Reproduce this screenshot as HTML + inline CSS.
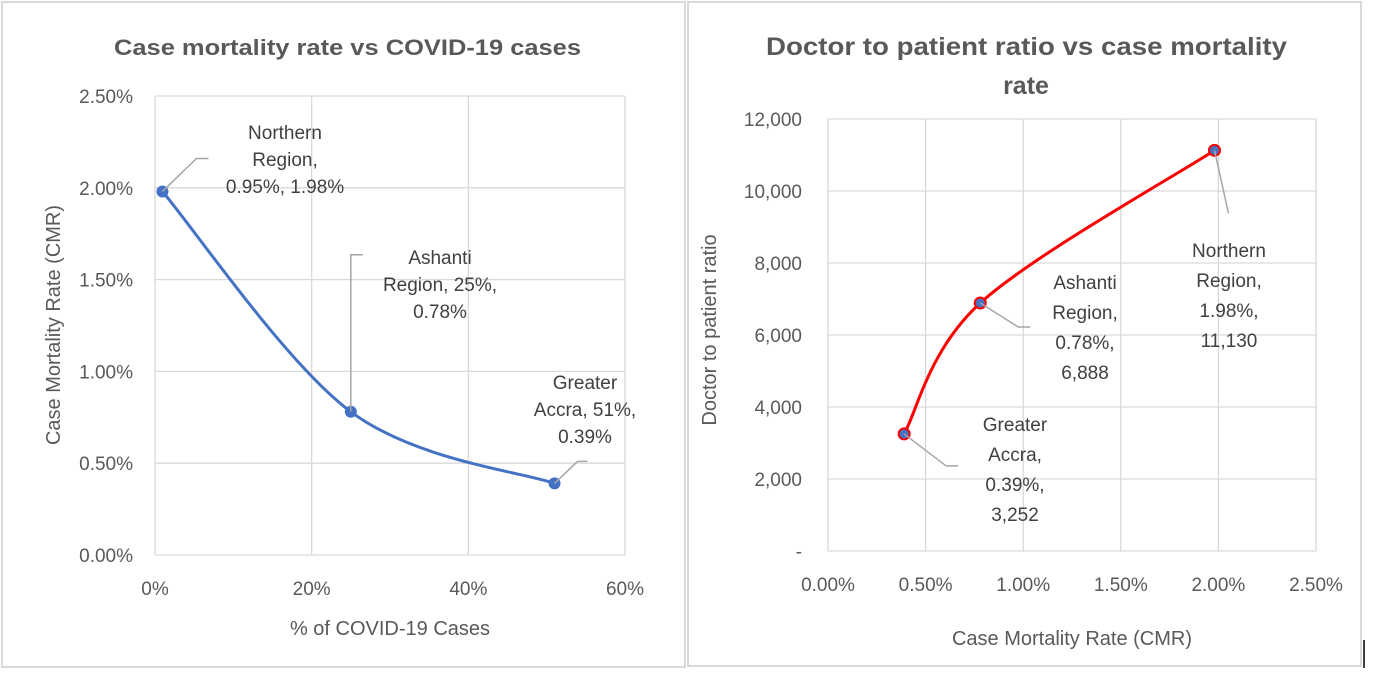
<!DOCTYPE html>
<html><head><meta charset="utf-8"><style>
html,body{margin:0;padding:0;background:#fff;}
svg text{font-family:"Liberation Sans",sans-serif;}
</style></head><body>
<svg id="s" width="1375" height="676" xmlns="http://www.w3.org/2000/svg">
<rect x="2" y="2" width="683" height="665" fill="#fff" stroke="#d9d9d9" stroke-width="2"/>
<rect x="688" y="2" width="673" height="664" fill="#fff" stroke="#d9d9d9" stroke-width="2"/>
<line x1="1364" y1="640" x2="1364" y2="668" stroke="#000" stroke-width="1.5"/>
<g id="L"></g><g id="R"></g>
</svg>
<script>
// Left chart data
const leftNames = ["Northern Region", "Ashanti Region", "Greater Accra"];
const leftX = [0.95, 25, 51];
const leftY = [1.98, 0.78, 0.39];
const leftXTicks = ["0%","20%","40%","60%"];
const leftYTicks = ["0.00%","0.50%","1.00%","1.50%","2.00%","2.50%"];
const leftLabels = [["Northern","Region,","0.95%, 1.98%"],["Ashanti","Region, 25%,","0.78%"],["Greater","Accra, 51%,","0.39%"]];
// Right chart data
const rightNames = ["Greater Accra","Ashanti Region","Northern Region"];
const rightX = [0.39, 0.78, 1.98];
const rightY = [3252, 6888, 11130];
const rightXTicks = ["0.00%","0.50%","1.00%","1.50%","2.00%","2.50%"];
const rightYTicks = ["-","2,000","4,000","6,000","8,000","10,000","12,000"];
const rightLabels = [["Greater","Accra,","0.39%,","3,252"],["Ashanti","Region,","0.78%,","6,888"],["Northern","Region,","1.98%,","11,130"]];

const NS="http://www.w3.org/2000/svg";
function mk(p,tag,attrs,txt){const e=document.createElementNS(NS,tag);for(const k in attrs)e.setAttribute(k,attrs[k]);if(txt!==undefined)e.textContent=txt;p.appendChild(e);return e;}
function smooth(pts){let d="M"+pts[0][0]+","+pts[0][1];for(let i=0;i<pts.length-1;i++){const p0=pts[i-1]||pts[i],p1=pts[i],p2=pts[i+1],p3=pts[i+2]||p2;const t=1/3;const c1=[p1[0]+(p2[0]-p0[0])*t/2,p1[1]+(p2[1]-p0[1])*t/2];const c2=[p2[0]-(p3[0]-p1[0])*t/2,p2[1]-(p3[1]-p1[1])*t/2];d+=` C${c1[0]},${c1[1]} ${c2[0]},${c2[1]} ${p2[0]},${p2[1]}`;}return d;}

// LEFT
(function(){
const g=document.getElementById('L');
const x0=155,x1=625,y0=555,y1=96;
const sx=v=>x0+v/60*(x1-x0), sy=v=>y0-v/2.5*(y0-y1);
leftYTicks.forEach((t,i)=>{const y=sy(i*0.5);
 let l=mk(g,'line',{x1:x0,x2:x1,y1:y,y2:y,stroke:'#d9d9d9','stroke-width':1.3});
 
 let tx=mk(g,'text',{x:x0-22,y:y+7,'text-anchor':'end','font-size':19,fill:'#595959'},t);
 });
leftXTicks.forEach((t,i)=>{const x=sx(i*20);
 let l=mk(g,'line',{x1:x,x2:x,y1:y0,y2:y1,stroke:'#d9d9d9','stroke-width':1.3});
 
 let tx=mk(g,'text',{x:x,y:y0+40,'text-anchor':'middle','font-size':19,fill:'#595959'},t);
 });
let t=mk(g,'text',{x:114,y:55,'font-size':22,'font-weight':'bold',fill:'#595959',textLength:467,lengthAdjust:'spacingAndGlyphs'},"Case mortality rate vs COVID-19 cases");

t=mk(g,'text',{x:390,y:635,'text-anchor':'middle','font-size':20,fill:'#595959'},"% of COVID-19 Cases");

t=mk(g,'text',{x:0,y:0,'text-anchor':'middle','font-size':20,fill:'#595959',transform:'translate(60,325) rotate(-90)'},"Case Mortality Rate (CMR)");

const pts=leftX.map((v,i)=>[sx(v),sy(leftY[i])]);
let p=mk(g,'path',{d:smooth(pts),fill:'none',stroke:'#4472c4','stroke-width':3});

const off=[[[34,-33],[46,-33]],[[0,-157],[12,-157]],[[23,-22],[33,-22]]];
const lab=[[285,139],[440,264],[585,389]];
pts.forEach((q,i)=>{
 let c=mk(g,'circle',{cx:q[0],cy:q[1],r:6,fill:'#4472c4'});
 
 let pl=mk(g,'polyline',{points:`${q[0]},${q[1]} ${q[0]+off[i][0][0]},${q[1]+off[i][0][1]} ${q[0]+off[i][1][0]},${q[1]+off[i][1][1]}`,fill:'none',stroke:'#a6a6a6','stroke-width':1.5});
 
 leftLabels[i].forEach((s,j)=>{let tt=mk(g,'text',{x:lab[i][0],y:lab[i][1]+j*27,'text-anchor':'middle','font-size':19,fill:'#404040'},s);
 });
});
})();

// RIGHT
(function(){
const g=document.getElementById('R');
const x0=828,x1=1316,y0=551,y1=119;
const sx=v=>x0+v/2.5*(x1-x0), sy=v=>y0-v/12000*(y0-y1);
rightYTicks.forEach((t,i)=>{const y=sy(i*2000);
 let l=mk(g,'line',{x1:x0,x2:x1,y1:y,y2:y,stroke:'#d9d9d9','stroke-width':1.3});
 
 let tx=mk(g,'text',{x:x0-26,y:y+7,'text-anchor':'end','font-size':19,fill:'#595959'},t);
 });
rightXTicks.forEach((t,i)=>{const x=sx(i*0.5);
 let l=mk(g,'line',{x1:x,x2:x,y1:y0,y2:y1,stroke:'#d9d9d9','stroke-width':1.3});
 
 let tx=mk(g,'text',{x:x,y:y0+40,'text-anchor':'middle','font-size':19,fill:'#595959'},t);
 });
let t=mk(g,'text',{x:766,y:55,'font-size':25,'font-weight':'bold',fill:'#595959',textLength:521,lengthAdjust:'spacingAndGlyphs'},"Doctor to patient ratio vs case mortality");

t=mk(g,'text',{x:1026,y:94,'text-anchor':'middle','font-size':25,'font-weight':'bold',fill:'#595959'},"rate");

t=mk(g,'text',{x:1072,y:645,'text-anchor':'middle','font-size':20,fill:'#595959'},"Case Mortality Rate (CMR)");

t=mk(g,'text',{x:0,y:0,'text-anchor':'middle','font-size':20,fill:'#595959',transform:'translate(716,330) rotate(-90)'},"Doctor to patient ratio");

const pts=rightX.map((v,i)=>[sx(v),sy(rightY[i])]);
let p=mk(g,'path',{d:smooth(pts),fill:'none',stroke:'#ff0000','stroke-width':3});

const off=[[[42,32],[54,32]],[[38,24],[50,24]],[[14,63],[14,63]]];
const lab=[[1015,431],[1085,289],[1229,257]];
pts.forEach((q,i)=>{
 let c=mk(g,'circle',{cx:q[0],cy:q[1],r:5.5,fill:'#4472c4',stroke:'#ff0000','stroke-width':2});
 
 let pl=mk(g,'polyline',{points:`${q[0]},${q[1]} ${q[0]+off[i][0][0]},${q[1]+off[i][0][1]} ${q[0]+off[i][1][0]},${q[1]+off[i][1][1]}`,fill:'none',stroke:'#a6a6a6','stroke-width':1.5});
 
 rightLabels[i].forEach((s,j)=>{let tt=mk(g,'text',{x:lab[i][0],y:lab[i][1]+j*30,'text-anchor':'middle','font-size':19,fill:'#404040'},s);
 });
});
})();
</script>
</body></html>
